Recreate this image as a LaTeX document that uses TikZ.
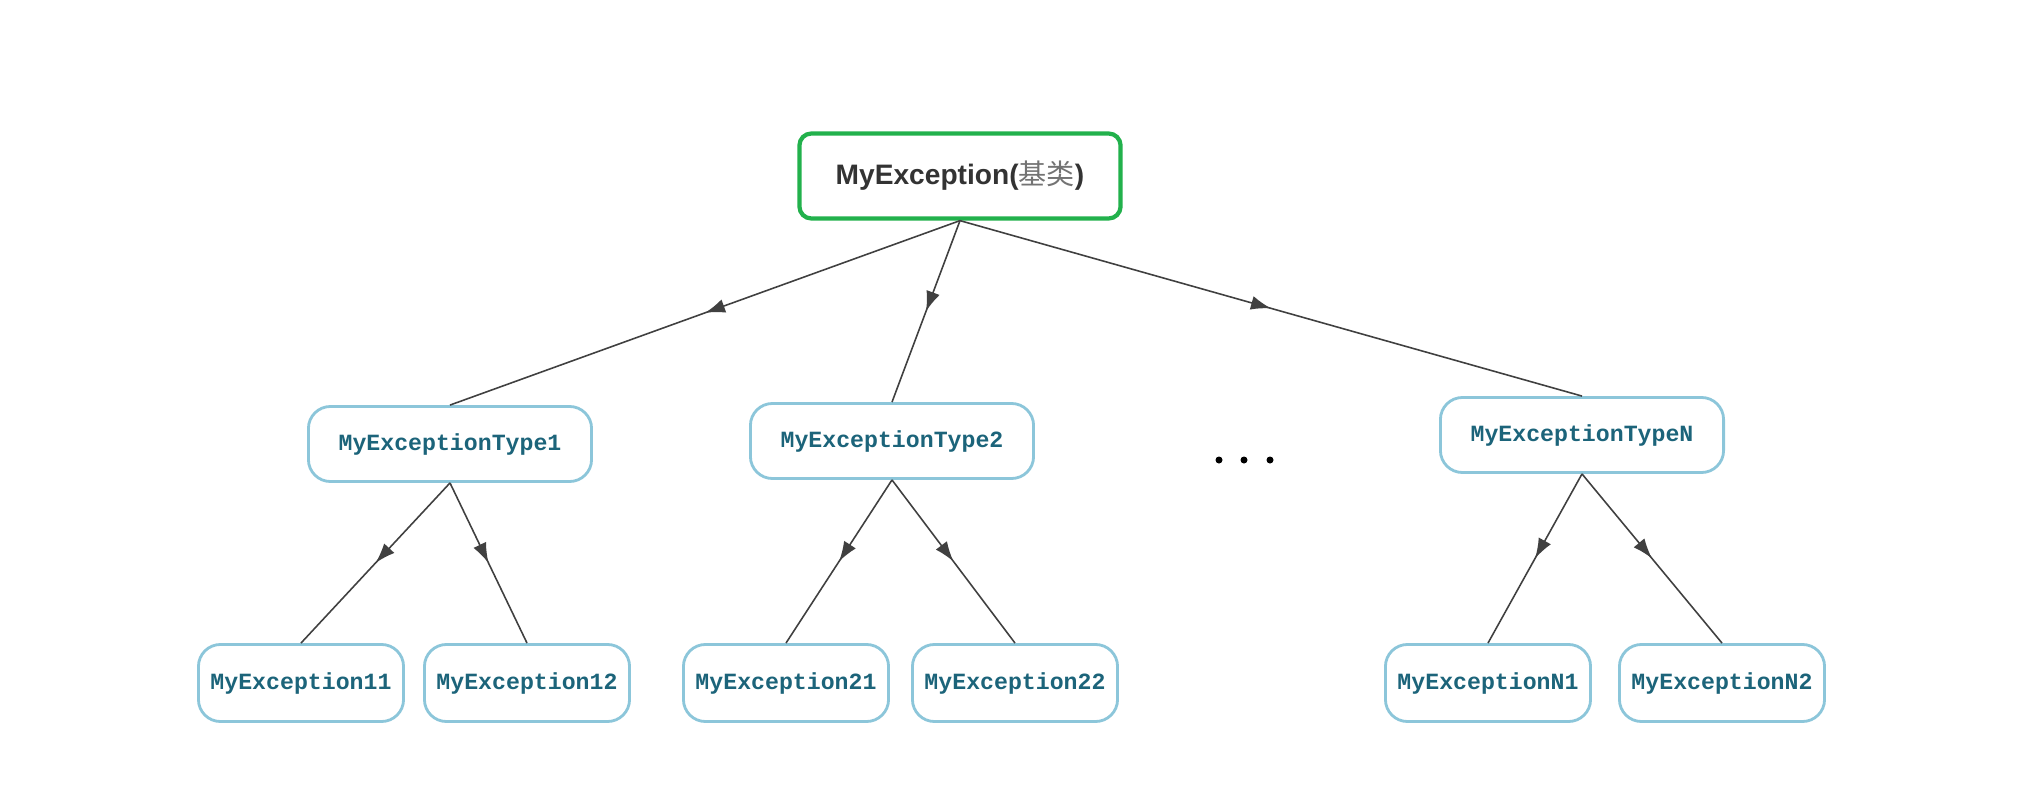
\documentclass[tikz,border=0pt]{standalone}
\usepackage{fontspec}
\setmainfont{Liberation Sans}
\setmonofont{Liberation Mono}
\newfontfamily\cjk{Noto Sans CJK SC}
\usetikzlibrary{positioning,arrows.meta,decorations.markings}
\definecolor{dGreen}{RGB}{34,177,76}
\definecolor{dBlue}{RGB}{140,198,218}
\definecolor{dTeal}{RGB}{28,100,122}
\definecolor{dEdge}{RGB}{64,64,64}
\definecolor{dText}{RGB}{51,51,51}
\tikzset{
  base/.style={rectangle, rounded corners=1.2mm, draw=dGreen, line width=1.2pt,
               fill=white, minimum width=32.1mm, minimum height=8.5mm,
               font=\fontsize{8}{10}\selectfont\bfseries, text=dText},
  sub/.style={rectangle, rounded corners=2.2mm, draw=dBlue, line width=0.8pt,
              fill=white, minimum width=28.3mm, minimum height=7.5mm,
              font=\fontsize{6.6}{8}\selectfont\ttfamily\bfseries, text=dTeal},
  leaf/.style={sub, minimum width=20.5mm, minimum height=7.7mm},
  inh/.style={draw=dEdge, line width=0.45pt,
              decoration={markings, mark=at position 0.5 with
                {\arrow[dEdge]{Latex[length=2mm,width=1.4mm]}}},
              postaction={decorate}},
}
\newcommand{\Inh}[2]{% {parent}{child}
  \draw[inh] (#1.south) -- (#2.north);}

\begin{document}
\begin{tikzpicture}[x=0.01cm, y=-0.01cm]
  \useasboundingbox (0,0) rectangle (2020,797);
  \node[base] (root) at (960,176)
    {MyException({\cjk\mdseries\color{gray!90!black}基类})};
  \node[sub] (t1) at (450,444) {MyExceptionType1};
  \node[sub] (t2) at (892,441) {MyExceptionType2};
  \node[sub] (tN) at (1582,435) {MyExceptionTypeN};
  \node[leaf] (e11) at (301,683) {MyException11};
  \node[leaf] (e12) at (527,683) {MyException12};
  \node[leaf] (e21) at (786,683) {MyException21};
  \node[leaf] (e22) at (1015,683) {MyException22};
  \node[leaf] (eN1) at (1488,683) {MyExceptionN1};
  \node[leaf] (eN2) at (1722,683) {MyExceptionN2};
  \Inh{root}{t1}
  \Inh{root}{t2}
  \Inh{root}{tN}
  \Inh{t1}{e11}
  \Inh{t1}{e12}
  \Inh{t2}{e21}
  \Inh{t2}{e22}
  \Inh{tN}{eN1}
  \Inh{tN}{eN2}
  % more types in between
  \foreach \dx in {1219,1244,1270}
    \fill (\dx,460) circle[radius=0.035cm];
\end{tikzpicture}
\end{document}
